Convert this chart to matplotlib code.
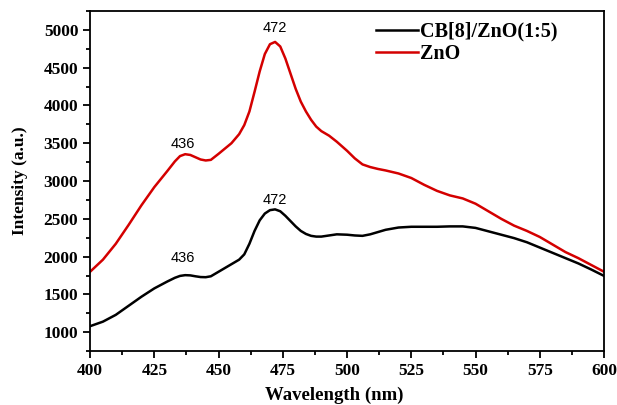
import matplotlib
matplotlib.use("Agg")
import matplotlib.pyplot as plt
from matplotlib.ticker import MultipleLocator

# Emission spectra (wavelength in nm, intensity in a.u.)
wl_znO = [400, 405, 410, 415, 420, 425, 430, 433, 435, 437, 439, 441, 443, 445,
          447, 450, 455, 458, 460, 462, 464, 466, 468, 470, 472, 474, 476, 478,
          480, 482, 484, 486, 488, 490, 493, 496, 500, 503, 506, 509, 512, 515,
          520, 525, 530, 535, 540, 545, 550, 555, 560, 565, 570, 575, 580, 585,
          590, 595, 600]
int_znO = [1800, 1960, 2170, 2420, 2680, 2920, 3130, 3260, 3330, 3355, 3345, 3315,
           3285, 3272, 3280, 3360, 3500, 3620, 3740, 3920, 4180, 4450, 4680, 4810,
           4840, 4780, 4620, 4420, 4220, 4050, 3920, 3810, 3720, 3660, 3600, 3520,
           3400, 3300, 3220, 3185, 3160, 3140, 3100, 3040, 2950, 2870, 2810, 2770,
           2700, 2600, 2500, 2410, 2340, 2260, 2160, 2060, 1980, 1890, 1800]

wl_cb = [400, 405, 410, 415, 420, 425, 430, 433, 435, 437, 439, 441, 443, 445,
         447, 450, 455, 458, 460, 462, 464, 466, 468, 470, 472, 474, 476, 478,
         480, 482, 484, 486, 488, 490, 493, 496, 500, 503, 506, 509, 512, 515,
         520, 525, 530, 535, 540, 545, 550, 555, 560, 565, 570, 575, 580, 585,
         590, 595, 600]
int_cb = [1080, 1140, 1230, 1350, 1470, 1580, 1670, 1720, 1745, 1755, 1752, 1740,
          1730, 1728, 1740, 1800, 1900, 1960, 2030, 2170, 2340, 2480, 2570, 2615,
          2625, 2600, 2540, 2470, 2400, 2340, 2300, 2275, 2265, 2265, 2280, 2295,
          2290, 2280, 2275, 2295, 2325, 2355, 2385, 2395, 2395, 2395, 2400, 2400,
          2380, 2335, 2290, 2245, 2190, 2120, 2050, 1980, 1910, 1830, 1745]

# peak labels: (text, x, y)
peaks = [("436", 436, 3360), ("472", 472, 4840),
         ("436", 436, 1755), ("472", 472, 2625)]
# how far above each peak its label sits (points)
label_gap = [2, 5, 7, 1.5]

serif_bold = {"family": "Liberation Serif", "weight": "bold"}

fig = plt.figure(figsize=(6.17, 4.05), dpi=100)
ax = fig.add_axes([0.146, 0.133, 0.833, 0.840])

ax.plot(wl_cb, int_cb, color="black", lw=1.8, solid_joinstyle="round",
        label="CB[8]/ZnO(1:5)")
ax.plot(wl_znO, int_znO, color="#d40000", lw=1.8, solid_joinstyle="round",
        label="ZnO")

for (txt, x, y), gap in zip(peaks, label_gap):
    ax.annotate(txt, (x, y), xytext=(0, gap), textcoords="offset points",
                ha="center", va="bottom", fontsize=10.5, family="Liberation Sans")

ax.set_xlim(400, 600)
ax.set_ylim(750, 5250)
ax.xaxis.set_major_locator(MultipleLocator(25))
ax.xaxis.set_minor_locator(MultipleLocator(12.5))
ax.yaxis.set_major_locator(MultipleLocator(500))
ax.yaxis.set_minor_locator(MultipleLocator(250))
ax.tick_params(which="both", direction="out", width=1.3, top=False, right=False)
ax.tick_params(which="major", length=5)
ax.tick_params(which="minor", length=3)
for lab in ax.get_xticklabels() + ax.get_yticklabels():
    lab.set_fontfamily("Liberation Serif")
    lab.set_fontweight("bold")
    lab.set_fontsize(12.5)
for sp in ax.spines.values():
    sp.set_linewidth(1.3)

ax.set_xlabel("Wavelength (nm)", fontsize=13.5, **serif_bold)
ax.set_ylabel("Intensity (a.u.)", fontsize=12.5, **serif_bold)
ax.xaxis.set_label_coords(0.475, -0.105)
ax.yaxis.set_label_coords(-0.12, 0.5)

leg = ax.legend(loc="upper left", bbox_to_anchor=(0.556, 0.968), frameon=False,
                handlelength=2.1, handletextpad=0.1, borderaxespad=0,
                borderpad=0, labelspacing=0.1,
                prop={"family": "Liberation Serif", "weight": "bold", "size": 14.5})

fig.savefig("out.png", dpi=100)
